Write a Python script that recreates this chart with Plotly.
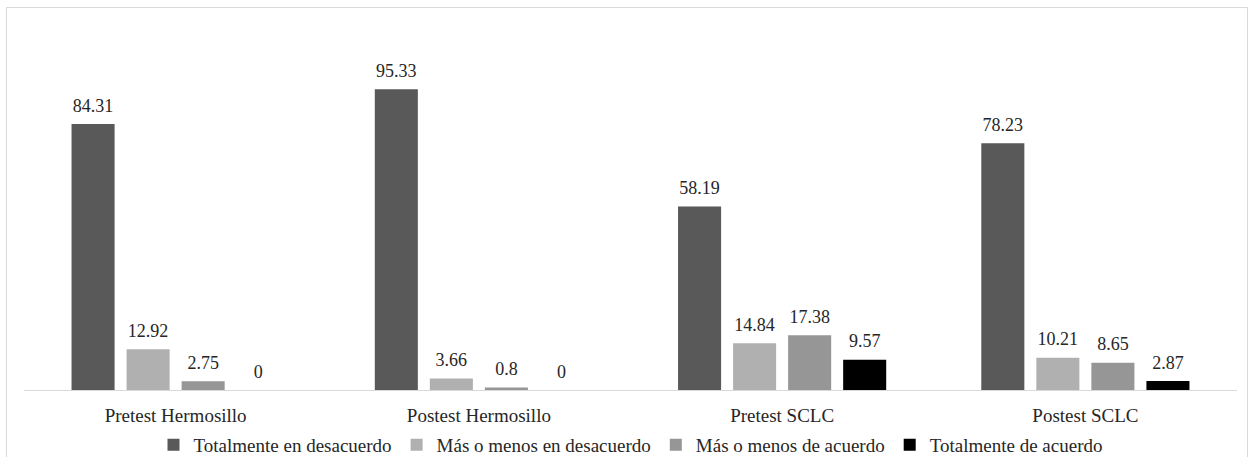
import plotly.graph_objects as go

# Grupos y categorías de respuesta
grupos = ["Pretest Hermosillo", "Postest Hermosillo", "Pretest SCLC", "Postest SCLC"]
series = [
    "Totalmente en desacuerdo",
    "Más o menos en desacuerdo",
    "Más o menos de acuerdo",
    "Totalmente de acuerdo",
]
totalmente_desacuerdo = [84.31, 95.33, 58.19, 78.23]
mas_menos_desacuerdo = [12.92, 3.66, 14.84, 10.21]
mas_menos_acuerdo = [2.75, 0.8, 17.38, 8.65]
totalmente_acuerdo = [0, 0, 9.57, 2.87]

valores = [totalmente_desacuerdo, mas_menos_desacuerdo, mas_menos_acuerdo, totalmente_acuerdo]
colores = ["#595959", "#b0b0b0", "#969696", "#000000"]

FUENTE = "Liberation Serif"
HUECO = 0.274

fig = go.Figure()
for i, (nombre, vals, color) in enumerate(zip(series, valores, colores)):
    fig.add_trace(go.Bar(
        name=nombre,
        x=grupos,
        y=vals,
        offsetgroup=str(i),
        marker=dict(color=color, line=dict(width=0)),
    ))

# Etiquetas de valor sobre cada barra (puntos invisibles alineados con las barras)
for i, vals in enumerate(valores):
    fig.add_trace(go.Scatter(
        x=grupos,
        y=vals,
        offsetgroup=str(i),
        mode="markers+text",
        marker=dict(size=11, opacity=0),
        text=[f"{v:g}" for v in vals],
        textposition="top center",
        textfont=dict(family=FUENTE, size=18, color="#262626"),
        cliponaxis=False,
        showlegend=False,
        hoverinfo="skip",
    ))

W, H = 1250, 457
L, R, T, B = 23.5, 12.5, 20, 67
fig.update_layout(
    width=W,
    height=H,
    barmode="group",
    bargap=HUECO,
    bargroupgap=0.218,
    scattermode="group",
    scattergap=HUECO,
    paper_bgcolor="white",
    plot_bgcolor="white",
    margin=dict(l=L, r=R, t=T, b=B, autoexpand=False),
    font=dict(family=FUENTE, size=19, color="#262626"),
    xaxis=dict(
        showline=True,
        linecolor="#d9d9d9",
        linewidth=1,
        ticks="",
        showgrid=False,
        ticklabelstandoff=8,
        tickfont=dict(family=FUENTE, size=19, color="#262626"),
        fixedrange=True,
    ),
    yaxis=dict(
        range=[0, 117.3],
        visible=False,
        showgrid=False,
        zeroline=False,
        fixedrange=True,
    ),
    legend=dict(
        orientation="h",
        x=0.5,
        xanchor="center",
        y=-55 / (H - T - B),
        yanchor="middle",
        font=dict(family=FUENTE, size=19, color="#262626"),
        itemwidth=30,
        tracegroupgap=0,
    ),
    showlegend=True,
)

# Marco exterior del gráfico
ph = H - T - B
pw = W - L - R
fig.add_shape(
    type="rect",
    xref="paper", yref="paper",
    x0=(6 - L) / pw, x1=(1248 - L) / pw,
    y0=-(B + 20) / ph, y1=(H - B - 7.5) / ph,
    line=dict(color="#d9d9d9", width=1),
    fillcolor="rgba(0,0,0,0)",
    layer="below",
)

fig.write_html("out.html")
